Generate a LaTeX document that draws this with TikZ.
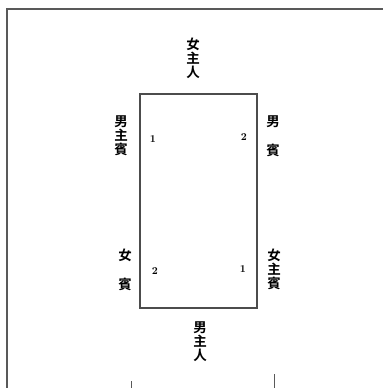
\documentclass[tikz,border=0pt]{standalone}
\usepackage{fontspec}
\newfontfamily\cjk{Noto Sans CJK TC Bold}
\begin{document}
\begin{tikzpicture}[x=1pt,y=-1pt,
  frame/.style={draw=black!65,line width=1.4pt},
  box/.style={draw=black!70,line width=1.2pt},
  vtext/.style={font=\cjk\fontsize{13.5}{14}\selectfont,align=center,inner sep=0pt,text width=14pt},
  ch/.style={font=\cjk\fontsize{13.5}{14}\selectfont,inner sep=0pt},
  num/.style={font=\bfseries\fontsize{10.5}{11}\selectfont,inner sep=0pt}]
\useasboundingbox (0,0) rectangle (383,388);
% outer frame
\coordinate (fl) at (7,388);
\coordinate (fc) at (7,9);
\coordinate (fr) at (383,9);
\draw[frame] (fl) -- (fc) -- (fr);
% ticks
\coordinate (t1a) at (131,381);
\coordinate (t1b) at (131,388);
\coordinate (t2a) at (274,374);
\coordinate (t2b) at (274,388);
\draw[black!65,line width=0.8pt] (t1a) -- (t1b);
\draw[black!65,line width=0.8pt] (t2a) -- (t2b);
% table
\node[box,minimum width=117pt,minimum height=214pt,inner sep=0pt] (table) at (198.5,201) {};
% labels
\node[vtext] (top) at (193,58) {女\\主\\人};
\node[vtext] (bottom) at (200,342) {男\\主\\人};
\node[vtext] (ul) at (121,136) {男\\主\\賓};
\node[ch] (ur1) at (273,122) {男};
\node[ch] (ur2) at (273,150) {賓};
\node[ch] (ll1) at (125,255) {女};
\node[ch] (ll2) at (125,284) {賓};
\node[vtext] (lr) at (274,269) {女\\主\\賓};
% numbers
\node[num] (n1) at (153,139) {1};
\node[num] (n2) at (244,137) {2};
\node[num] (n3) at (155,271) {2};
\node[num] (n4) at (243,269) {1};
\end{tikzpicture}
\end{document}
